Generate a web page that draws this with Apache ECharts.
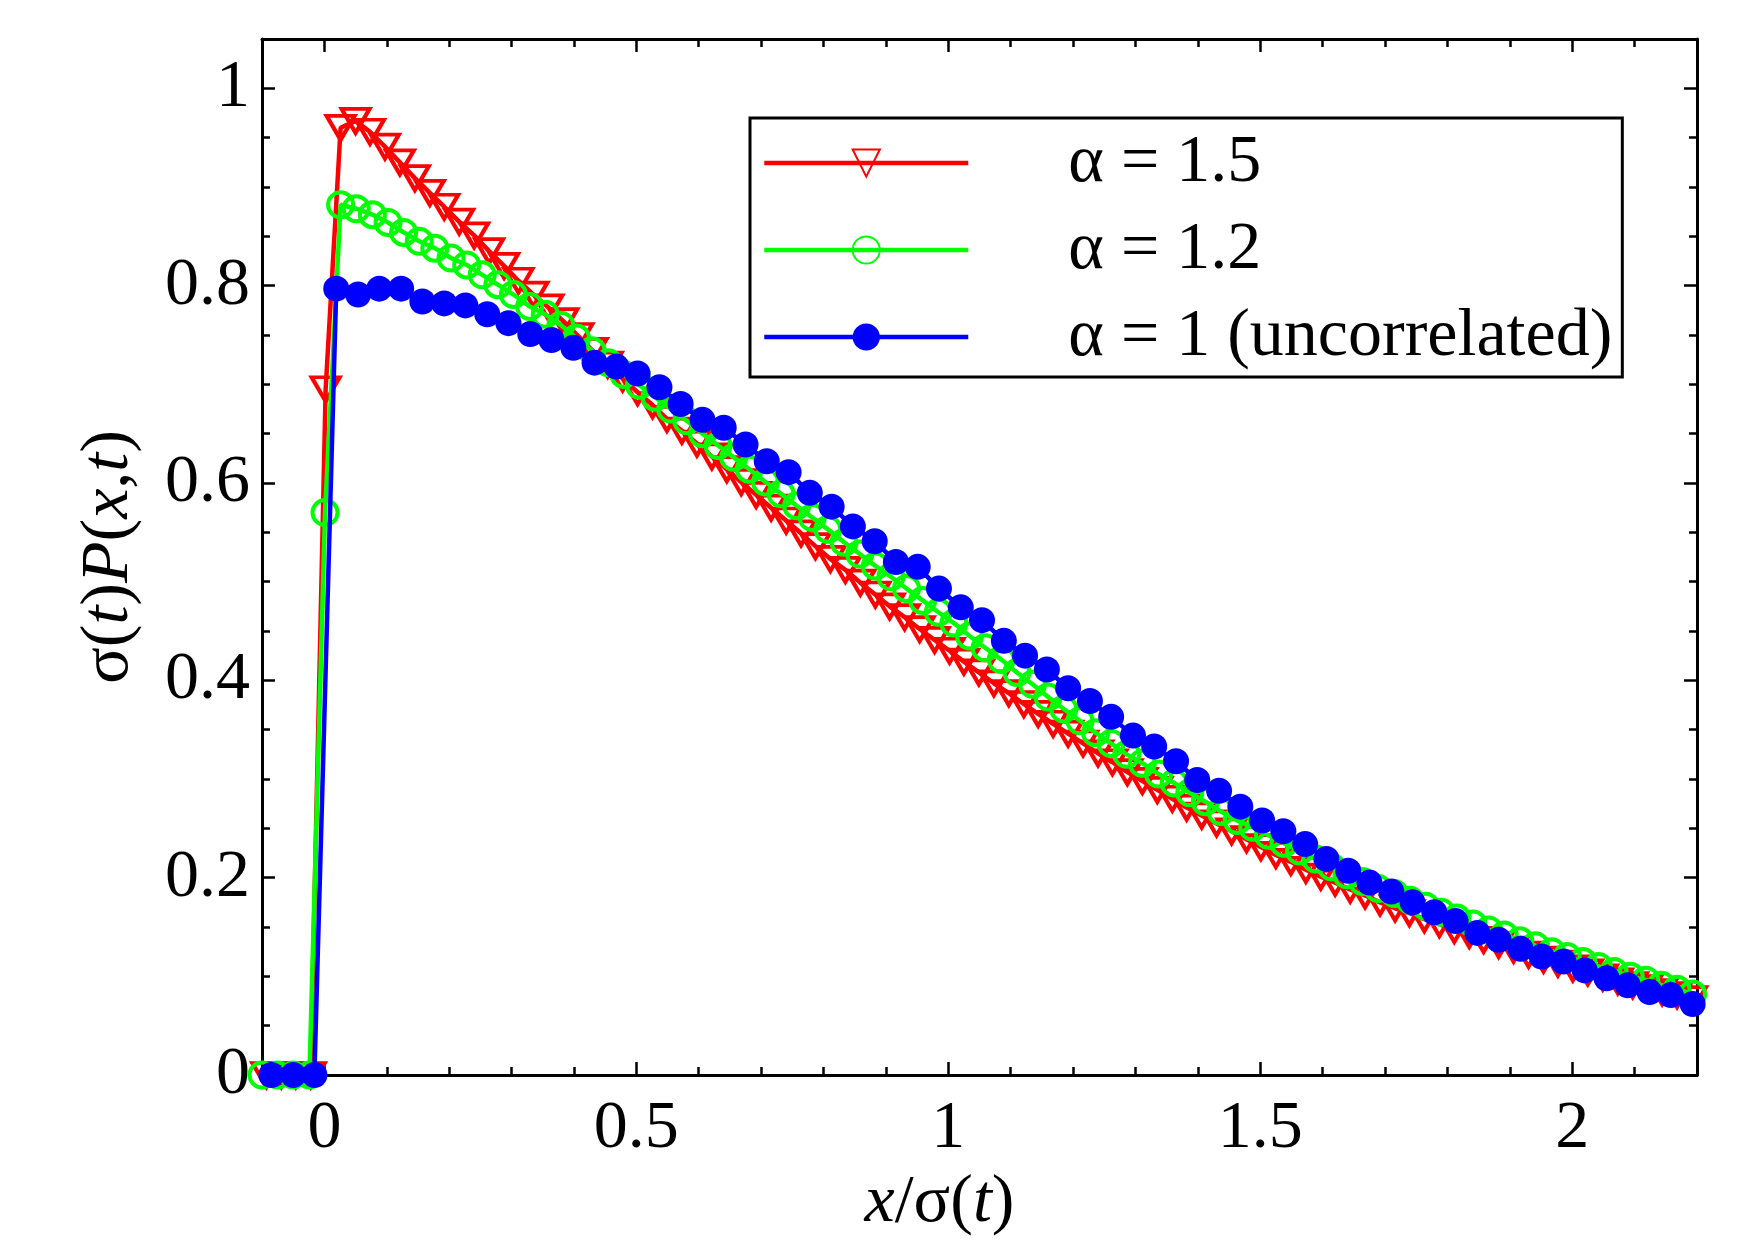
<!DOCTYPE html>
<html>
<head>
<meta charset="utf-8">
<title>sigma(t)P(x,t)</title>
<script src="https://cdn.jsdelivr.net/npm/echarts@6/dist/echarts.min.js"></script>
<style>
  html, body { margin: 0; padding: 0; background: #fff; }
  #chart { width: 1755px; height: 1242px; }
</style>
</head>
<body>
<div id="chart"></div>
<script>
const seriesNames = ["α = 1.5", "α = 1.2", "α = 1 (uncorrelated)"];
const xTickLabels = [0, 0.5, 1, 1.5, 2];
const yTickLabels = [0, 0.2, 0.4, 0.6, 0.8, 1];

// alpha = 1.5
const redX = [-0.093, -0.069, -0.046, -0.022,
  0.002, 0.026, 0.050, 0.073, 0.097, 0.121, 0.145, 0.169, 0.192, 0.216,
  0.240, 0.264, 0.288, 0.311, 0.335, 0.359, 0.383, 0.407, 0.430, 0.454,
  0.478, 0.502, 0.526, 0.549, 0.573, 0.597, 0.621, 0.645, 0.668, 0.692,
  0.716, 0.740, 0.764, 0.787, 0.811, 0.835, 0.859, 0.883, 0.906, 0.930,
  0.954, 0.978, 1.002, 1.025, 1.049, 1.073, 1.097, 1.121, 1.144, 1.168,
  1.192, 1.216, 1.240, 1.263, 1.287, 1.311, 1.335, 1.359, 1.382, 1.406,
  1.430, 1.454, 1.478, 1.501, 1.525, 1.549, 1.573, 1.597, 1.620, 1.644,
  1.668, 1.692, 1.716, 1.739, 1.763, 1.787, 1.811, 1.835, 1.858, 1.882,
  1.906, 1.930, 1.954, 1.977, 2.001, 2.025, 2.049, 2.073, 2.097, 2.120,
  2.144, 2.168, 2.192];
const redY = [0, 0, 0, 0,
  0.695, 0.960, 0.967, 0.956, 0.941, 0.925, 0.909, 0.894, 0.880, 0.865,
  0.851, 0.835, 0.820, 0.805, 0.791, 0.778, 0.764, 0.749, 0.734, 0.720,
  0.706, 0.692, 0.679, 0.665, 0.653, 0.640, 0.627, 0.614, 0.601, 0.588,
  0.575, 0.562, 0.549, 0.536, 0.523, 0.512, 0.499, 0.487, 0.475, 0.464,
  0.452, 0.441, 0.430, 0.419, 0.408, 0.397, 0.387, 0.376, 0.366, 0.356,
  0.346, 0.336, 0.326, 0.317, 0.307, 0.298, 0.289, 0.280, 0.271, 0.263,
  0.255, 0.247, 0.239, 0.231, 0.223, 0.216, 0.208, 0.201, 0.195, 0.188,
  0.182, 0.175, 0.169, 0.164, 0.158, 0.153, 0.147, 0.142, 0.137, 0.132,
  0.127, 0.122, 0.117, 0.113, 0.108, 0.104, 0.099, 0.095, 0.091, 0.088,
  0.084, 0.081, 0.077];

// alpha = 1.2
const greenX = [-0.100, -0.075, -0.050, -0.024,
  0.001, 0.026, 0.051, 0.077, 0.102, 0.127, 0.152, 0.177, 0.203, 0.228,
  0.253, 0.278, 0.303, 0.329, 0.354, 0.379, 0.404, 0.429, 0.455, 0.480,
  0.505, 0.530, 0.555, 0.581, 0.606, 0.631, 0.656, 0.681, 0.707, 0.732,
  0.757, 0.782, 0.807, 0.833, 0.858, 0.883, 0.908, 0.933, 0.959, 0.984,
  1.009, 1.034, 1.059, 1.085, 1.110, 1.135, 1.160, 1.185, 1.211, 1.236,
  1.261, 1.286, 1.311, 1.337, 1.362, 1.387, 1.412, 1.437, 1.463, 1.488,
  1.513, 1.538, 1.563, 1.589, 1.614, 1.639, 1.664, 1.689, 1.715, 1.740,
  1.765, 1.790, 1.815, 1.841, 1.866, 1.891, 1.916, 1.941, 1.967, 1.992,
  2.017, 2.042, 2.067, 2.093, 2.118, 2.143, 2.168, 2.193];
const greenY = [0, 0, 0, 0,
  0.570, 0.882, 0.878, 0.872, 0.864, 0.854, 0.845, 0.838, 0.828, 0.821,
  0.811, 0.801, 0.791, 0.779, 0.771, 0.760, 0.747, 0.734, 0.722, 0.710,
  0.699, 0.687, 0.675, 0.663, 0.650, 0.638, 0.626, 0.614, 0.601, 0.589,
  0.577, 0.565, 0.553, 0.540, 0.528, 0.516, 0.505, 0.493, 0.481, 0.469,
  0.458, 0.445, 0.433, 0.421, 0.408, 0.396, 0.383, 0.371, 0.359, 0.347,
  0.336, 0.325, 0.316, 0.305, 0.296, 0.286, 0.277, 0.267, 0.258, 0.251,
  0.243, 0.235, 0.227, 0.219, 0.211, 0.203, 0.196, 0.189, 0.184, 0.177,
  0.171, 0.165, 0.159, 0.153, 0.147, 0.142, 0.136, 0.131, 0.125, 0.120,
  0.115, 0.110, 0.105, 0.100, 0.096, 0.091, 0.087, 0.082];

// alpha = 1 (uncorrelated)
const blueX = [-0.085, -0.050, -0.016,
  0.019, 0.054, 0.088, 0.123, 0.157, 0.192, 0.226, 0.261, 0.295, 0.330,
  0.364, 0.399, 0.433, 0.468, 0.502, 0.537, 0.571, 0.606, 0.640, 0.675,
  0.709, 0.744, 0.778, 0.813, 0.847, 0.882, 0.916, 0.951, 0.985, 1.020,
  1.054, 1.089, 1.123, 1.158, 1.192, 1.227, 1.261, 1.296, 1.330, 1.365,
  1.399, 1.434, 1.468, 1.503, 1.537, 1.572, 1.606, 1.641, 1.675, 1.710,
  1.744, 1.779, 1.813, 1.848, 1.882, 1.917, 1.951, 1.986, 2.020, 2.055,
  2.089, 2.124, 2.158, 2.193];
const blueY = [0, 0, 0,
  0.797, 0.791, 0.797, 0.797, 0.784, 0.782, 0.780, 0.771, 0.762, 0.751,
  0.745, 0.737, 0.722, 0.718, 0.711, 0.697, 0.680, 0.664, 0.656, 0.639,
  0.622, 0.611, 0.590, 0.576, 0.556, 0.541, 0.520, 0.515, 0.493, 0.474,
  0.461, 0.440, 0.425, 0.411, 0.392, 0.379, 0.363, 0.344, 0.333, 0.318,
  0.299, 0.288, 0.272, 0.258, 0.247, 0.234, 0.219, 0.207, 0.195, 0.186,
  0.175, 0.165, 0.156, 0.144, 0.137, 0.128, 0.120, 0.115, 0.106, 0.098,
  0.091, 0.084, 0.081, 0.072];

const FONT = '"Liberation Serif", "Times New Roman", serif';
const FS = 68;
const zip = (xs, ys) => xs.map((x, i) => [x, ys[i]]);
const onList = (list, v) => list.some((t) => Math.abs(t - v) < 1e-6);

const rich = {
  n: { fontFamily: FONT, fontSize: FS, color: "#000" },
  i: { fontFamily: FONT, fontSize: FS, color: "#000", fontStyle: "italic" },
};

const axisBase = (labels, showLabel, minorSplit, margin) => ({
  type: "value",
  axisLine: { onZero: false, lineStyle: { color: "#000", width: 3 } },
  axisTick: { inside: true, length: 13, lineStyle: { color: "#000", width: 2.5 } },
  minorTick: { show: true, splitNumber: minorSplit, length: 8, lineStyle: { color: "#000", width: 2.5 } },
  splitLine: { show: false },
  axisLabel: {
    show: showLabel,
    fontFamily: FONT,
    fontSize: FS,
    color: "#000",
    margin: margin,
    formatter: (v) => (onList(labels, v) ? String(v) : ""),
  },
});

const chart = echarts.init(document.getElementById("chart"));

chart.setOption({
  animation: false,
  backgroundColor: "#fff",
  grid: { left: 262, right: 58, top: 39, bottom: 167 },
  legend: {
    orient: "vertical",
    left: 750,
    top: 118,
    padding: [11, 10, 6, 12],
    itemWidth: 204,
    itemHeight: 34,
    itemGap: 19,
    borderColor: "#000",
    borderWidth: 3,
    backgroundColor: "#fff",
    selectedMode: false,
    lineStyle: { width: 4.5 },
    textStyle: {
      fontFamily: FONT,
      fontSize: FS,
      lineHeight: 68,
      color: "#000",
      padding: [0, 0, 0, 95],
    },
    data: seriesNames,
  },
  xAxis: [
    Object.assign(axisBase(xTickLabels, true, 5, 20), {
      min: -0.1,
      max: 2.2,
      position: "bottom",
      name: "{i|x}{n|/σ(}{i|t}{n|)}",
      nameLocation: "middle",
      nameGap: 94,
      nameTextStyle: { rich: rich, padding: [0, 80, 0, 0] },
    }),
    Object.assign(axisBase(xTickLabels, false, 5, 20), {
      min: -0.1,
      max: 2.2,
      position: "top",
    }),
  ],
  yAxis: [
    Object.assign(axisBase(yTickLabels, true, 4, 12), {
      min: 0,
      max: 1.05,
      interval: 0.2,
      position: "left",
      name: "{n|σ(}{i|t}{n|)}{i|P}{n|(}{i|x}{n|,}{i|t}{n|)}",
      nameLocation: "middle",
      nameGap: 119,
      nameTextStyle: { rich: rich },
    }),
    Object.assign(axisBase(yTickLabels, false, 4, 12), {
      min: 0,
      max: 1.05,
      interval: 0.2,
      position: "right",
    }),
  ],
  series: [
    {
      name: seriesNames[0],
      type: "line",
      color: "#ff0000",
      data: zip(redX, redY),
      symbol: "triangle",
      symbolRotate: 180,
      symbolSize: [28, 24],
      lineStyle: { color: "#ff0000", width: 4.5 },
      itemStyle: { color: "rgba(255,255,255,0)", borderColor: "#ff0000", borderWidth: 4 },
      emphasis: { disabled: true },
      z: 2,
    },
    {
      name: seriesNames[1],
      type: "line",
      color: "#00ff00",
      data: zip(greenX, greenY),
      symbol: "circle",
      symbolSize: 25,
      lineStyle: { color: "#00ff00", width: 4.5 },
      itemStyle: { color: "rgba(255,255,255,0)", borderColor: "#00ff00", borderWidth: 4 },
      emphasis: { disabled: true },
      z: 3,
    },
    {
      name: seriesNames[2],
      type: "line",
      color: "#0000ff",
      data: zip(blueX, blueY),
      symbol: "circle",
      symbolSize: 26,
      lineStyle: { color: "#0000ff", width: 4.5 },
      itemStyle: { color: "#0000ff" },
      emphasis: { disabled: true },
      z: 4,
    },
  ],
});
</script>
</body>
</html>
